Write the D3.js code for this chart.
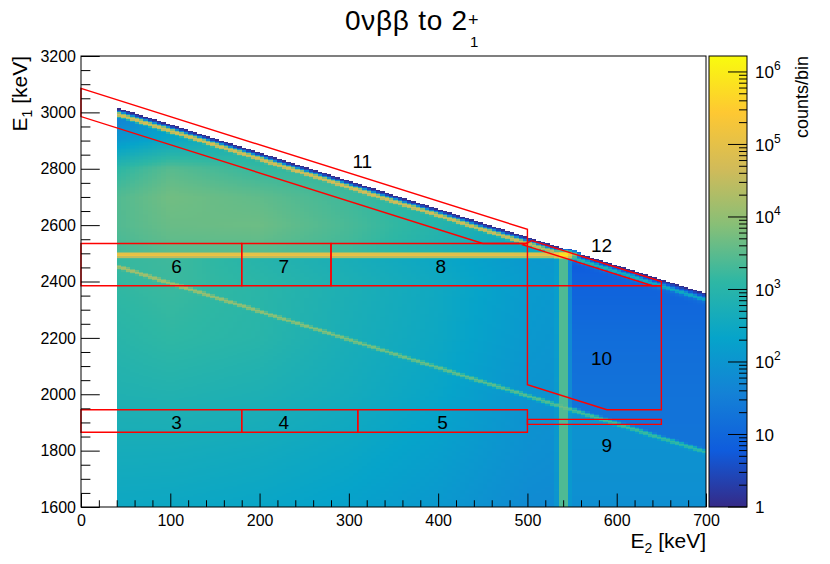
<!DOCTYPE html>
<html>
<head>
<meta charset="utf-8">
<script src="https://cdn.jsdelivr.net/npm/d3@7"></script>
<style>
  body { margin: 0; background: #fff; }
  svg { display: block; font-family: "Liberation Sans", Arial, Helvetica, sans-serif; }
</style>
</head>
<body>
<svg id="chart" width="830" height="564"></svg>
<script>
// ---- histogram binning (keV) ----
const binWidth = 5
const e2Range = [40, 700]
const e1Range = [1600, 3200]
const zMax = 1.66e6

// ---- line positions (keV) ----
const qSum = 3034        // E1 + E2 of the 0vbb peak
const gammaE = 540       // 2+1 gamma
const lowerSum = 2494    // E1 + E2 of the lower diagonal
const horizE1 = 2494     // horizontal band

// ---- line heights, counts/bin at the line centre ----
const upperE2 = [40, 300, 500, 530, 550, 600, 700]
const upperAmp = [60000, 60000, 40000, 25000, 1500, 600, 300]
const upperTailAmp = 10          // faint shoulder above the peak line
const horizE2 = [40, 300, 540]
const horizAmp = [170000, 150000, 120000]
const lowerE2 = [40, 200, 400, 540, 700]
const lowerAmp = [15000, 9000, 4000, 2500, 1200]
const vertAmp = 4000
const spotAmp = 1000000
const lineSigma = [3, 3.5, 3.5, 2.5, 4, 10]   // upper, horizontal, lower, vertical, spot, upper shoulder

// ---- continuum, counts/bin read on a coarse grid (E2 < 540) ----
const bgE2 = [40, 100, 200, 300, 400, 500, 540]
const bgE1 = [1600, 1800, 2000, 2200, 2400, 2490, 2500, 2600, 2700, 2800, 2900, 3000]
const bgCounts = [
  [300, 290, 250, 190, 120, 60, 55],
  [450, 440, 380, 280, 170, 80, 70],
  [700, 750, 620, 420, 240, 95, 85],
  [1000, 1300, 1000, 520, 300, 120, 100],
  [1400, 1700, 1100, 600, 330, 140, 120],
  [1500, 1800, 900, 500, 270, 120, 110],
  [2000, 3000, 3000, 1800, 700, 250, 200],
  [2600, 4200, 4500, 2200, 900, 300, 200],
  [2600, 5000, 3500, 1800, 800, 300, 200],
  [1200, 3000, 1500, 1200, 700, 300, 200],
  [120, 300, 600, 600, 500, 300, 200],
  [30, 100, 300, 300, 300, 300, 200]
]
// continuum right of the gamma line (E2 > 540)
const rightE1 = [1600, 1800, 2000, 2200, 2400, 2500]
const rightBelowCounts = [75, 85, 90, 90, 90, 90]
const rightAboveCounts = [20, 20, 18, 14, 8, 5]

// ---- cut regions (E2, E1) ----
const regionLabels = ['3', '4', '5', '6', '7', '8', '9', '10', '11', '12']
const regionShapes = [
  [[0, 1865], [180, 1865], [180, 1945], [0, 1945]],
  [[180, 1865], [310, 1865], [310, 1945], [180, 1945]],
  [[310, 1865], [500, 1865], [500, 1945], [310, 1945]],
  [[0, 2385], [180, 2385], [180, 2535], [0, 2535]],
  [[180, 2385], [280, 2385], [280, 2535], [180, 2535]],
  [[280, 2385], [500, 2385], [500, 2535], [280, 2535]],
  [[500, 1893], [650, 1893], [650, 1911], [500, 1911]],
  [[500, 2385], [650, 2385], [650, 1945], [589, 1945], [500, 2034]],
  [[0, 3085], [500, 2585], [500, 2535], [450, 2535], [0, 2985]],
  [[495, 2530], [505, 2545], [650, 2400], [650, 2385], [640, 2385]]
]
const regionLabelAt = [[107, 1902], [227, 1902], [405, 1902], [107, 2455], [227, 2455], [403, 2455],
  [589, 1820], [583, 2129], [315, 2828], [583, 2530]]

// ROOT kBird palette
const birdStops = [0, 0.125, 0.25, 0.375, 0.5, 0.625, 0.75, 0.875, 1]
const birdR = [0.2082, 0.0592, 0.0780, 0.0232, 0.1802, 0.5301, 0.8186, 0.9956, 0.9764]
const birdG = [0.1664, 0.3599, 0.5041, 0.6419, 0.7178, 0.7492, 0.7328, 0.7862, 0.9832]
const birdB = [0.5293, 0.8684, 0.8385, 0.7914, 0.6425, 0.4662, 0.3499, 0.1968, 0.0539]

const font = '"Liberation Sans", Arial, Helvetica, sans-serif'
const svg = d3.select('#chart')

const x = d3.scaleLinear().domain([0, 700]).range([81, 706])
const y = d3.scaleLinear().domain([1600, 3200]).range([507, 56])
const z = d3.scaleLog().domain([1, zMax]).range([0, 1])
const birdColors = birdStops.map((s, i) => d3.rgb(birdR[i] * 255, birdG[i] * 255, birdB[i] * 255))
const palette = d3.scaleLinear().domain(birdStops).range(birdColors).interpolate(d3.interpolateRgb).clamp(true)

// log-linear lookup along a read series
function logInterp(xs, ys, v) {
    if (v <= xs[0]) return ys[0]
    if (v >= xs[xs.length - 1]) return ys[ys.length - 1]
    const k = d3.bisectRight(xs, v) - 1
    const t = (v - xs[k]) / (xs[k + 1] - xs[k])
    return Math.exp(Math.log(ys[k]) * (1 - t) + Math.log(ys[k + 1]) * t)
}

function gauss(d, s) { return Math.exp(-d * d / (2 * s * s)) }

function continuum(e2, e1) {
    const s = e1 + e2
    if (s > qSum) return 0
    if (e2 > gammaE) return logInterp(rightE1, s < lowerSum ? rightBelowCounts : rightAboveCounts, e1)
    // bilinear in log on the read grid
    const cx = Math.min(Math.max(d3.bisectRight(bgE2, e2) - 1, 0), bgE2.length - 2)
    const cy = Math.min(Math.max(d3.bisectRight(bgE1, e1) - 1, 0), bgE1.length - 2)
    const t = Math.min(Math.max((e2 - bgE2[cx]) / (bgE2[cx + 1] - bgE2[cx]), 0), 1)
    const u = Math.min(Math.max((e1 - bgE1[cy]) / (bgE1[cy + 1] - bgE1[cy]), 0), 1)
    const L = (r, c) => Math.log(bgCounts[r][c])
    const a = L(cy, cx) * (1 - t) + L(cy, cx + 1) * t
    const b = L(cy + 1, cx) * (1 - t) + L(cy + 1, cx + 1) * t
    return Math.exp(a * (1 - u) + b * u)
}

function binContent(e2, e1) {
    const s = e1 + e2
    let v = continuum(e2, e1)
    v += logInterp(upperE2, upperAmp, e2) * gauss(s - qSum, lineSigma[0])
    v += upperTailAmp * gauss(s - qSum, lineSigma[5])
    if (e2 <= gammaE) v += logInterp(horizE2, horizAmp, e2) * gauss(e1 - horizE1, lineSigma[1])
    v += logInterp(lowerE2, lowerAmp, e2) * gauss(s - lowerSum, lineSigma[2])
    if (e1 <= horizE1) v += vertAmp * gauss(e2 - gammaE, lineSigma[3])
    v += spotAmp * gauss(e2 - gammaE, lineSigma[4]) * gauss(e1 - horizE1, lineSigma[4])
    return v
}

// fill bins
const nx = (e2Range[1] - e2Range[0]) / binWidth
const ny = (e1Range[1] - e1Range[0]) / binWidth
const binColor = []
for (let j = 0; j < ny; j++) {
    for (let i = 0; i < nx; i++) {
        const v = binContent(e2Range[0] + (i + 0.5) * binWidth, e1Range[0] + (j + 0.5) * binWidth)
        binColor.push(v >= 1 ? d3.rgb(palette(z(Math.min(v, zMax)))) : null)
    }
}

// paint the bins into an image laid under the frame
const W = Math.round(x(700) - x(0))
const H = Math.round(y(1600) - y(3200))
const canvas = document.createElement('canvas')
canvas.width = W
canvas.height = H
const ctx = canvas.getContext('2d')
const img = ctx.createImageData(W, H)
for (let py = 0; py < H; py++) {
    const e1 = y.invert(y(3200) + py + 0.5)
    const j = Math.floor((e1 - e1Range[0]) / binWidth)
    for (let px = 0; px < W; px++) {
        const e2 = x.invert(x(0) + px + 0.5)
        if (e2 < e2Range[0]) continue
        const i = Math.floor((e2 - e2Range[0]) / binWidth)
        if (i < 0 || i >= nx || j < 0 || j >= ny) continue
        const c = binColor[j * nx + i]
        if (!c) continue
        const o = (py * W + px) * 4
        img.data[o] = c.r
        img.data[o + 1] = c.g
        img.data[o + 2] = c.b
        img.data[o + 3] = 255
    }
}
ctx.putImageData(img, 0, 0)
svg.append('image')
    .attr('x', x(0))
    .attr('y', y(3200))
    .attr('width', W)
    .attr('height', H)
    .attr('href', canvas.toDataURL())

// cut regions
const line = d3.line().x(d => x(d[0])).y(d => y(d[1]))
svg.append('g')
    .selectAll('path')
    .data(regionShapes)
    .enter()
    .append('path')
    .attr('d', d => line(d) + 'Z')
    .attr('fill', 'none')
    .attr('stroke', '#ff0000')
    .attr('stroke-width', 1.4)

svg.append('g')
    .selectAll('text')
    .data(regionLabels)
    .enter()
    .append('text')
    .text(d => d)
    .attr('x', (d, i) => x(regionLabelAt[i][0]))
    .attr('y', (d, i) => y(regionLabelAt[i][1]))
    .attr('dy', '0.36em')
    .attr('text-anchor', 'middle')
    .attr('font-size', 19)
    .attr('fill', 'black')

// frame
svg.append('rect')
    .attr('x', x(0)).attr('y', y(3200))
    .attr('width', x(700) - x(0)).attr('height', y(1600) - y(3200))
    .attr('fill', 'none').attr('stroke', 'black').attr('stroke-width', 1)

// axes, ROOT style ticks pointing inward
function styleAxis(g) {
    g.select('.domain').remove()
    g.attr('font-family', font).attr('font-size', 16)
}
const plain = d3.format('d')
svg.append('g')
    .attr('transform', `translate(${x(0)},0)`)
    .call(d3.axisLeft(y).tickValues(d3.range(1600, 3201, 200)).tickFormat(plain).tickSizeInner(-18.75).tickSizeOuter(0).tickPadding(5))
    .call(styleAxis)
svg.append('g')
    .attr('transform', `translate(${x(0)},0)`)
    .call(d3.axisLeft(y).tickValues(d3.range(1650, 3200, 50).filter(v => v % 200)).tickSizeInner(-9.4).tickSizeOuter(0).tickFormat(() => ''))
    .call(styleAxis)
svg.append('g')
    .attr('transform', `translate(0,${y(1600)})`)
    .call(d3.axisBottom(x).tickValues(d3.range(0, 701, 100)).tickFormat(plain).tickSizeInner(-13.5).tickSizeOuter(0).tickPadding(8))
    .call(styleAxis)
svg.append('g')
    .attr('transform', `translate(0,${y(1600)})`)
    .call(d3.axisBottom(x).tickValues(d3.range(20, 700, 20).filter(v => v % 100)).tickSizeInner(-6.75).tickSizeOuter(0).tickFormat(() => ''))
    .call(styleAxis)

// axis titles
const xt = svg.append('text')
    .attr('x', x(700)).attr('y', 548)
    .attr('text-anchor', 'end').attr('font-size', 21)
xt.append('tspan').text('E')
xt.append('tspan').text('2').attr('font-size', 14).attr('dy', 5)
xt.append('tspan').text(' [keV]').attr('dy', -5)

const yt = svg.append('text')
    .attr('transform', `translate(27,${y(3200)}) rotate(-90)`)
    .attr('text-anchor', 'end').attr('font-size', 21)
yt.append('tspan').text('E')
yt.append('tspan').text('1').attr('font-size', 14).attr('dy', 5)
yt.append('tspan').text(' [keV]').attr('dy', -5)

// title
const titleX = 345
const titleW = 122
svg.append('text')
    .attr('x', titleX).attr('y', 30)
    .attr('font-size', 28)
    .attr('textLength', titleW).attr('lengthAdjust', 'spacing')
    .text('0νββ to 2')
svg.append('text').attr('x', titleX + titleW + 1).attr('y', 26).attr('font-size', 18).text('+')
svg.append('text').attr('x', titleX + titleW + 3).attr('y', 47).attr('font-size', 15).text('1')

// colour bar
const zy = d3.scaleLog().domain([1, zMax]).range([y(1600), y(3200)])
const barX = [709, 747]
const grad = svg.append('defs').append('linearGradient')
    .attr('id', 'bird').attr('x1', 0).attr('y1', 1).attr('x2', 0).attr('y2', 0)
grad.selectAll('stop')
    .data(birdStops)
    .enter()
    .append('stop')
    .attr('offset', d => d)
    .attr('stop-color', (d, i) => birdColors[i].formatHex())
svg.append('rect')
    .attr('x', barX[0]).attr('y', zy(zMax))
    .attr('width', barX[1] - barX[0]).attr('height', zy(1) - zy(zMax))
    .attr('fill', 'url(#bird)').attr('stroke', 'black').attr('stroke-width', 1)

const decades = d3.range(0, 7)
const minors = []
decades.forEach(p => d3.range(2, 10).forEach(m => { if (m * 10 ** p < zMax) minors.push(m * 10 ** p) }))
svg.append('g')
    .selectAll('line.major')
    .data(decades)
    .enter()
    .append('line')
    .attr('x1', barX[1] - 19).attr('x2', barX[1])
    .attr('y1', d => zy(10 ** d)).attr('y2', d => zy(10 ** d))
    .attr('stroke', 'black')
svg.append('g')
    .selectAll('line.minor')
    .data(minors)
    .enter()
    .append('line')
    .attr('x1', barX[1] - 8).attr('x2', barX[1])
    .attr('y1', d => zy(d)).attr('y2', d => zy(d))
    .attr('stroke', 'black')
const zl = svg.append('g')
    .selectAll('text')
    .data(decades)
    .enter()
    .append('text')
    .attr('x', 755)
    .attr('y', d => zy(10 ** d))
    .attr('dy', '0.36em')
    .attr('font-size', 17)
zl.each(function(d) {
    const t = d3.select(this)
    if (d === 0) t.text('1')
    else if (d === 1) t.text('10')
    else {
        t.append('tspan').text('10')
        t.append('tspan').text(d).attr('font-size', 12).attr('dy', -8)
    }
})
svg.append('text')
    .attr('transform', `translate(808,${zy(zMax)}) rotate(-90)`)
    .attr('text-anchor', 'end').attr('font-size', 18)
    .text('counts/bin')
</script>
</body>
</html>
